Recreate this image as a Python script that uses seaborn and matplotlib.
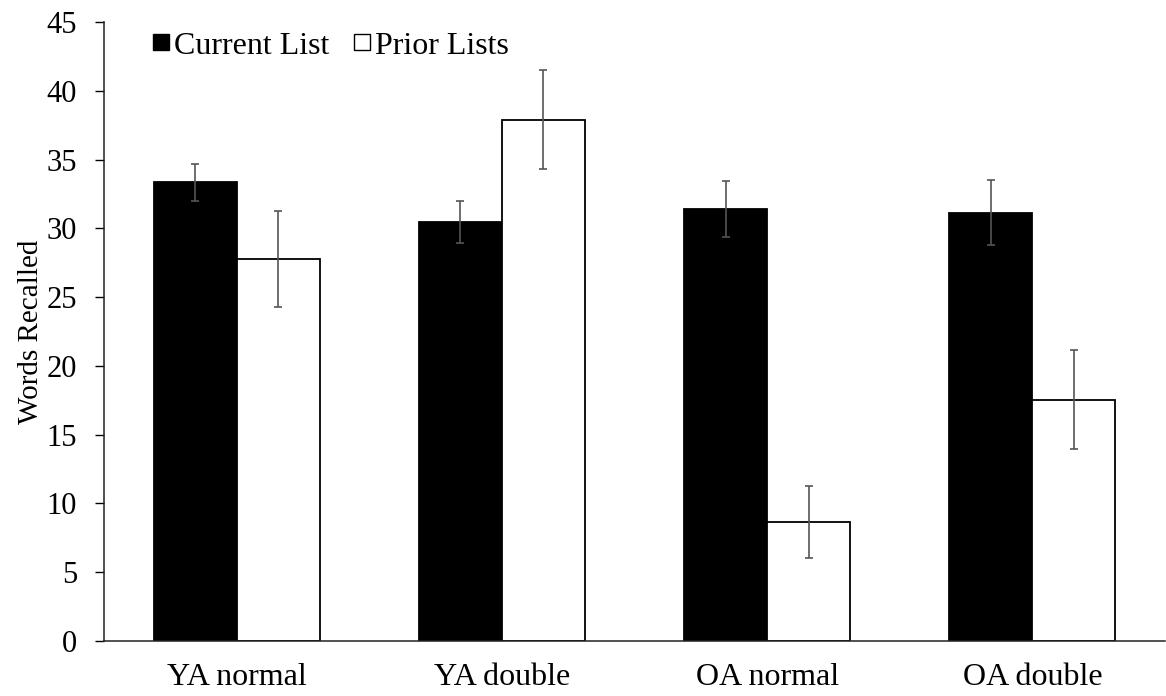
import pandas as pd
import matplotlib
matplotlib.use('Agg')
import matplotlib.pyplot as plt
import seaborn as sns
from matplotlib.lines import Line2D

# Data
conditions = ['YA normal', 'YA double', 'OA normal', 'OA double']
current_list = [33.35, 30.45, 31.4, 31.15]
prior_lists = [27.75, 37.9, 8.65, 17.55]
current_err = [1.35, 1.55, 2.05, 2.35]
prior_err = [3.5, 3.6, 2.6, 3.6]

df = pd.DataFrame({
    'Condition': conditions * 2,
    'Words': current_list + prior_lists,
    'List': ['Current List'] * 4 + ['Prior Lists'] * 4,
})

sns.set_style('ticks')
plt.rcParams['font.family'] = ['Liberation Serif', 'DejaVu Serif']
plt.rcParams['text.color'] = 'black'
plt.rcParams['xtick.color'] = 'black'
plt.rcParams['ytick.color'] = 'black'
plt.rcParams['axes.labelcolor'] = 'black'

fig = plt.figure(figsize=(11.66, 6.96), dpi=100)
ax = fig.add_axes([104 / 1166, 55 / 696, 1061 / 1166, 619 / 696])

sns.barplot(data=df, x='Condition', y='Words', hue='List', order=conditions,
            hue_order=['Current List', 'Prior Lists'],
            palette=['black', 'white'], edgecolor='black', linewidth=1.3,
            width=0.626, errorbar=None, legend=False, ax=ax)

# error bars centred on each bar
for container, errs in zip(ax.containers, [current_err, prior_err]):
    for bar, e in zip(container, errs):
        x = bar.get_x() + bar.get_width() / 2
        ax.errorbar(x, bar.get_height(), yerr=e, fmt='none', ecolor='#555555',
                    elinewidth=1.2, capsize=3, capthick=1.2)

ax.set_ylim(0, 45)
ax.set_yticks(range(0, 46, 5))
ax.set_xlim(-0.5, 3.5)
ax.set_xlabel('')
ax.set_ylabel('Words Recalled', fontsize=21, labelpad=2)
ax.tick_params(axis='y', labelsize=22, length=6.5, width=1, direction='out', pad=13)
ax.tick_params(axis='x', labelsize=23, length=0, pad=16)
sns.despine(ax=ax)
for side in ['left', 'bottom']:
    ax.spines[side].set_linewidth(1.1)
    ax.spines[side].set_color('#222222')

handles = [
    Line2D([], [], marker='s', linestyle='none', markersize=11,
           markerfacecolor='black', markeredgecolor='black'),
    Line2D([], [], marker='s', linestyle='none', markersize=11,
           markerfacecolor='white', markeredgecolor='black', markeredgewidth=1),
]
ax.legend(handles, ['Current List', 'Prior Lists'], loc='upper left',
          bbox_to_anchor=(0.046, 0.985), ncol=2, frameon=False, fontsize=23,
          borderpad=0, borderaxespad=0, handletextpad=0.15,
          columnspacing=0.8, handlelength=0.5)

fig.savefig('out.png', dpi=100)
